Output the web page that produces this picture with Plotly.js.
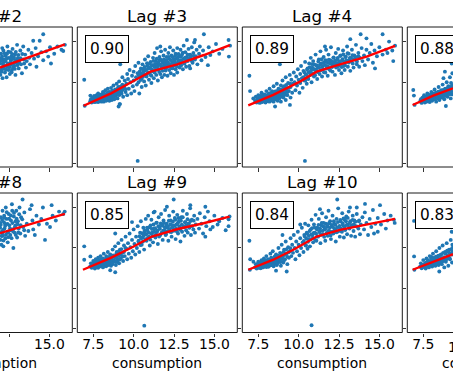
<!DOCTYPE html>
<html><head><meta charset="utf-8">
<script src="https://cdn.plot.ly/plotly-3.0.1.min.js"></script>
<style>html,body{margin:0;padding:0;background:#fff;}#chart{width:453px;height:378px;}</style>
</head><body><div id="chart"></div>
<script>
const lagNames = ['Lag #2','Lag #3','Lag #4','Lag #5','Lag #8','Lag #9','Lag #10','Lag #11'];
const corrLabels = [null,'0.90','0.89','0.88',null,'0.85','0.84','0.83'];
const xTickVals = [7.5,10,12.5,15];
const xTickText = ['7.5','10.0','12.5','15.0'];
const yTickVals = [0,5,10,15];
const xLabel = 'consumption';

const lag2Points = [[11.95,12.3],[11.97,10.9],[12.0,13.5],[12.05,11.6],[12.08,14.2],[12.1,12.8],[12.1,10.5],[12.15,13.9],[12.2,12.0],[12.25,11.2],[12.28,13.3],[12.3,12.6],[12.35,10.6],[12.4,14.4],[12.42,11.9],[12.45,13.0],[12.5,12.3],[12.55,11.0],[12.6,13.7],[12.62,12.7],[12.68,11.5],[12.72,14.1],[12.78,12.9],[12.82,12.0],[12.88,13.4],[12.9,10.9],[12.95,12.4],[13.0,14.6],[13.05,13.0],[13.1,11.7],[13.15,12.7],[13.2,13.9],[13.25,12.2],[13.3,11.1],[13.38,14.4],[13.42,12.8],[13.5,13.4],[13.55,11.8],[13.6,12.6],[13.7,14.0],[13.75,13.0],[13.8,12.2],[13.9,13.6],[14.0,15.1],[14.05,12.9],[14.15,14.2],[14.2,11.9],[14.3,13.2],[14.4,15.1],[14.5,13.7],[14.62,15.9],[14.62,12.7],[14.8,13.8],[14.93,13.15],[15.04,14.3],[15.1,12.3],[15.3,13.5],[15.5,14.4],[15.75,14.0],[15.86,13.85],[15.96,14.6],[11.96,11.4],[12.02,12.9],[12.12,11.9],[12.18,12.5],[12.32,12.0],[12.38,13.5],[12.48,11.5],[12.58,12.1],[12.65,13.2],[12.75,11.8],[12.85,12.5]];
const lag2Dense = [[11.99,12.62],[12.04,11.28],[12.07,13.18],[12.13,12.24],[12.16,11.66],[12.21,13.58],[12.26,12.82],[12.31,11.54],[12.36,12.94],[12.41,12.28],[12.46,13.76],[12.51,11.82],[12.56,12.96],[12.61,12.44],[12.66,11.22],[12.71,13.44],[12.76,12.22],[12.81,13.02],[12.86,11.64],[12.92,13.72],[12.97,12.74],[13.02,12.1],[13.08,13.36],[13.13,12.38],[13.22,12.96],[13.32,13.48],[13.44,12.3]];

const lag3Points = [[6.94,10.3],[6.97,7.1],[7.32,8.35],[7.3,7.6],[7.35,7.9],[7.4,7.5],[7.45,8.1],[7.5,7.7],[7.55,8.3],[7.6,7.55],[7.6,8.0],[7.65,7.8],[7.7,8.4],[7.7,7.6],[7.75,8.1],[7.8,7.55],[7.8,8.6],[7.85,7.9],[7.9,8.3],[7.9,7.65],[7.95,8.0],[8.0,8.5],[8.0,7.6],[8.05,7.85],[8.1,8.2],[8.1,8.8],[8.15,7.6],[8.2,8.45],[8.2,7.9],[8.25,9.0],[8.3,8.1],[8.3,7.7],[8.35,8.6],[8.4,7.95],[8.4,9.2],[8.45,8.3],[8.5,7.7],[8.5,8.8],[8.55,8.0],[8.6,9.3],[8.6,8.5],[8.65,7.8],[8.7,8.9],[8.7,8.2],[8.75,9.6],[8.8,7.9],[8.8,8.6],[8.85,9.1],[8.9,8.3],[8.95,9.8],[9.0,8.0],[9.0,8.8],[7.55,7.85],[7.75,7.7],[7.95,8.25],[8.15,8.05],[8.35,7.8],[8.55,8.45],[8.25,8.3],[7.85,8.15],[8.65,8.7],[8.05,8.35],[9.05,9.4],[9.1,8.4],[9.1,10.1],[9.15,7.3],[9.2,9.0],[9.25,8.6],[9.3,9.7],[9.3,10.6],[9.35,8.2],[9.4,9.3],[9.45,10.2],[9.5,8.8],[9.55,9.8],[9.6,11.0],[9.6,8.4],[9.65,10.4],[9.7,9.2],[9.75,11.5],[9.8,10.0],[9.85,8.6],[9.9,10.8],[9.95,9.5],[10.0,11.3],[10.0,10.2],[10.05,8.9],[10.1,12.0],[10.15,10.6],[10.2,9.7],[10.25,11.1],[10.3,10.0],[10.3,12.4],[10.35,8.6],[10.4,10.9],[10.45,11.7],[10.5,9.4],[10.5,10.4],[10.55,12.2],[10.6,11.0],[10.65,10.1],[10.7,12.8],[10.7,11.5],[10.75,9.6],[10.8,10.7],[10.85,12.0],[10.9,11.2],[10.9,13.2],[10.95,10.3],[11.0,11.8],[11.05,12.5],[11.1,10.8],[11.1,9.9],[11.15,11.5],[11.2,13.0],[11.2,12.1],[11.25,10.5],[11.3,11.2],[11.3,13.6],[11.35,12.6],[11.4,10.9],[11.4,11.9],[11.45,14.2],[11.5,12.3],[11.5,10.2],[11.55,11.6],[11.6,13.1],[11.6,12.7],[11.65,11.0],[11.7,12.0],[11.7,13.8],[11.75,10.6],[11.8,12.4],[11.8,11.4],[11.85,13.3],[11.9,12.1],[11.9,10.9],[11.95,14.0],[12.0,12.6],[12.0,11.7],[12.05,13.1],[12.1,10.8],[12.1,12.2],[12.15,13.6],[12.2,11.5],[12.2,12.9],[12.25,14.3],[12.3,12.0],[12.3,11.1],[12.35,13.3],[12.4,12.5],[12.4,11.7],[12.45,13.9],[12.5,12.8],[12.5,10.9],[12.55,12.2],[12.6,13.5],[12.6,11.6],[12.65,12.9],[12.7,14.2],[12.7,11.2],[12.75,12.5],[12.8,13.2],[12.85,11.8],[12.9,12.7],[12.9,14.0],[12.95,12.1],[13.0,13.4],[13.05,11.6],[13.1,12.9],[13.1,14.5],[13.15,12.3],[13.2,13.7],[13.25,11.9],[13.3,13.1],[13.3,15.2],[13.35,12.6],[13.4,14.1],[13.45,12.0],[13.5,13.4],[13.5,11.7],[13.55,12.9],[13.6,14.3],[13.65,12.4],[13.7,13.6],[13.75,14.9],[13.8,12.8],[13.85,13.2],[13.9,14.0],[13.95,12.2],[14.05,13.5],[14.1,14.4],[14.2,12.7],[14.3,13.9],[14.35,15.9],[14.45,13.1],[14.6,12.1],[14.65,14.3],[14.75,13.35],[14.9,13.8],[15.1,14.7],[15.3,13.5],[15.5,14.1],[15.88,15.2],[15.9,13.15],[15.97,14.5],[9.17,12.2],[9.07,7.0],[9.13,7.3],[10.25,0.3],[11.65,14.4],[13.8,15.2]];
const lag3Dense = [[7.42,7.72],[7.48,8.02],[7.53,7.58],[7.58,7.83],[7.63,8.17],[7.67,7.66],[7.72,7.95],[7.77,8.27],[7.82,7.74],[7.87,8.05],[7.92,7.82],[7.97,8.38],[8.02,7.96],[8.07,7.68],[8.12,8.31],[8.17,8.58],[8.22,8.12],[8.27,7.83],[8.32,8.42],[8.37,8.18],[8.42,8.73],[8.47,8.06],[8.52,8.38],[8.57,8.67],[8.62,8.14],[8.67,8.95],[8.72,8.46],[8.77,8.08],[8.82,8.82],[8.87,8.45],[8.92,9.02],[8.97,8.62],[9.02,9.22],[9.08,8.58],[9.13,8.95],[9.18,9.45],[9.24,8.88],[9.33,9.08],[9.42,9.55],[9.52,9.15],[10.32,10.84],[10.38,11.32],[10.43,10.27],[10.48,11.05],[10.53,11.62],[10.58,10.68],[10.63,11.36],[10.68,11.88],[10.73,10.96],[10.78,11.52],[10.83,12.34],[10.88,11.13],[10.93,11.72],[10.98,12.26],[11.03,10.92],[11.08,11.64],[11.13,12.08],[11.18,11.33],[11.23,12.62],[11.28,11.86],[11.33,12.23],[11.38,11.52],[11.43,12.88],[11.48,11.97],[11.53,12.46],[11.58,11.28],[11.63,12.17],[11.68,12.78],[11.73,11.74],[11.78,12.52],[11.83,11.98],[11.88,12.84],[11.93,12.36],[11.98,11.44],[12.03,12.68],[12.08,11.92],[12.13,12.44],[12.18,13.12],[12.23,12.16],[12.28,12.72],[12.33,11.84],[12.38,12.38],[12.43,13.04],[12.48,12.02],[12.53,12.58],[12.58,13.26],[12.63,12.28],[12.68,11.92],[12.73,12.86],[12.78,13.48],[12.83,12.52],[12.88,12.14],[12.93,13.18],[12.98,12.72],[13.04,13.62],[13.12,12.46],[13.18,13.02],[13.26,12.64],[13.34,13.38],[13.42,12.86],[13.52,13.18],[13.62,12.58],[13.72,13.22]];

const lag4Points = [[6.95,10.8],[6.99,8.9],[7.19,8.0],[10.39,0.3],[8.54,7.0],[9.46,7.2],[8.84,12.2],[11.63,14.4],[13.2,15.3],[13.84,15.9],[15.2,15.9],[15.86,12.6],[14.73,11.7],[14.2,15.4],[15.97,14.5],[15.5,13.6],[7.3,7.7],[7.35,8.2],[7.4,7.5],[7.45,7.9],[7.5,8.4],[7.5,7.6],[7.55,8.0],[7.6,7.45],[7.65,8.3],[7.7,7.8],[7.7,8.7],[7.75,7.55],[7.8,8.1],[7.85,7.7],[7.85,8.5],[7.9,7.95],[7.95,7.5],[8.0,8.3],[8.0,8.9],[8.05,7.7],[8.1,8.1],[8.15,8.6],[8.2,7.6],[8.2,9.2],[8.25,8.0],[8.3,8.4],[8.3,7.75],[8.35,8.9],[8.4,8.2],[8.45,7.6],[8.45,9.5],[8.5,8.5],[8.55,7.9],[8.6,8.9],[8.6,8.2],[8.65,9.8],[8.7,7.7],[8.7,8.6],[8.75,9.2],[8.8,8.0],[8.85,8.9],[8.9,9.6],[8.9,7.6],[8.95,8.3],[9.0,10.2],[9.0,9.0],[9.05,8.1],[9.1,9.5],[9.15,8.6],[9.2,10.6],[9.2,7.8],[9.25,9.2],[9.3,8.4],[9.35,9.9],[9.4,8.9],[9.45,10.9],[9.5,9.4],[9.5,8.1],[9.55,10.3],[9.6,8.7],[9.65,9.8],[9.7,11.2],[7.6,7.9],[7.8,8.35],[8.1,7.85],[8.4,8.6],[8.05,8.15],[8.25,8.65],[8.55,8.25],[7.95,8.1],[9.75,10.0],[9.8,9.0],[9.85,10.7],[9.9,9.6],[9.95,11.6],[10.0,10.3],[10.05,8.7],[10.1,11.0],[10.1,9.9],[10.15,12.0],[10.2,10.5],[10.25,9.3],[10.3,11.4],[10.35,10.2],[10.4,12.5],[10.45,10.9],[10.5,9.8],[10.55,11.7],[10.6,10.4],[10.65,12.3],[10.7,11.2],[10.75,13.0],[10.8,10.0],[10.85,11.8],[10.9,12.6],[10.95,10.7],[11.0,11.5],[11.05,13.4],[11.1,12.1],[11.15,10.4],[11.2,11.8],[11.25,12.8],[11.3,11.0],[11.35,13.8],[11.4,12.3],[11.45,10.7],[11.5,11.6],[11.55,13.1],[11.6,12.5],[11.65,11.2],[11.7,14.0],[11.75,12.0],[11.8,10.8],[11.85,13.4],[11.9,11.6],[11.95,12.7],[12.0,14.3],[12.05,12.2],[12.1,11.3],[12.15,13.0],[12.2,12.5],[12.25,10.9],[12.3,13.6],[12.35,11.9],[12.4,12.8],[12.45,14.1],[12.5,11.5],[12.55,12.3],[12.6,13.3],[12.65,11.1],[12.7,12.7],[12.75,13.9],[12.8,12.0],[12.85,11.5],[12.9,13.1],[12.95,12.5],[13.0,14.4],[13.05,11.9],[13.1,13.5],[13.15,12.7],[13.2,11.4],[13.25,13.0],[13.3,14.0],[13.35,12.3],[13.4,11.8],[13.45,13.3],[13.5,12.8],[13.55,14.6],[13.6,12.2],[13.7,13.6],[13.75,11.9],[13.8,13.0],[13.9,14.2],[13.95,12.6],[14.05,13.3],[14.1,12.1],[14.2,14.0],[14.3,12.8],[14.4,13.6],[14.5,14.7],[14.6,12.4],[14.7,13.9],[14.85,13.2],[15.0,14.3],[15.2,13.4],[15.4,14.0],[15.6,15.0],[15.8,13.9]];
const lag4Dense = [[7.41,7.66],[7.46,7.98],[7.51,7.52],[7.57,7.88],[7.62,8.21],[7.66,7.62],[7.71,7.91],[7.76,8.33],[7.81,7.71],[7.86,8.08],[7.91,7.79],[7.96,8.42],[8.01,7.93],[8.06,8.21],[8.11,7.66],[8.16,8.49],[8.21,8.08],[8.26,7.81],[8.31,8.62],[8.36,8.19],[8.41,7.9],[8.46,8.44],[8.51,8.83],[8.56,8.12],[8.61,8.55],[8.66,7.98],[8.71,8.92],[8.76,8.36],[8.81,8.71],[8.86,8.18],[8.91,9.12],[8.96,8.52],[9.01,8.86],[9.07,9.38],[9.12,8.42],[9.17,9.02],[9.23,9.66],[9.31,8.78],[9.39,9.32],[9.48,9.82],[10.3,10.62],[10.36,11.18],[10.41,10.22],[10.47,10.96],[10.52,11.54],[10.57,10.58],[10.62,11.24],[10.67,11.82],[10.72,10.88],[10.77,11.44],[10.82,12.22],[10.87,11.06],[10.92,11.64],[10.97,12.18],[11.02,10.84],[11.07,11.58],[11.12,12.04],[11.17,11.26],[11.22,12.56],[11.27,11.78],[11.32,12.16],[11.37,11.46],[11.42,12.82],[11.47,11.92],[11.52,12.38],[11.57,11.22],[11.62,12.12],[11.67,12.72],[11.72,11.68],[11.77,12.46],[11.82,11.94],[11.87,12.78],[11.92,12.32],[11.97,11.42],[12.02,12.62],[12.07,11.88],[12.12,12.4],[12.17,13.06],[12.22,12.12],[12.27,12.68],[12.32,11.8],[12.37,12.34],[12.42,12.98],[12.47,11.98],[12.52,12.54],[12.57,13.22],[12.62,12.24],[12.67,11.88],[12.72,12.82],[12.77,13.42],[12.82,12.48],[12.87,12.1],[12.92,13.14],[12.97,12.68],[13.03,13.56],[13.11,12.42],[13.17,12.98],[13.25,12.6],[13.33,13.34],[13.41,12.82],[13.51,13.14],[13.61,12.54],[13.71,13.18]];

const lag5Points = [[6.88,9.04],[6.92,8.35],[6.96,7.2],[7.3,7.6],[7.35,7.9],[7.4,7.45],[7.45,8.1],[7.5,7.7],[7.55,8.4],[7.6,7.5],[7.6,7.95],[7.65,8.2],[7.7,7.6],[7.75,8.6],[7.8,7.8],[7.85,8.3],[7.9,7.55],[7.95,8.0],[8.0,8.8],[8.05,7.7],[8.1,8.4],[8.15,7.9],[8.2,9.1],[8.25,8.2],[8.3,7.6],[8.35,8.7],[8.4,8.0],[8.45,9.4],[8.5,7.8],[8.55,8.5],[8.6,9.0],[8.65,8.1],[8.7,9.7],[8.75,10.5],[8.75,8.4],[8.8,7.9],[8.84,11.3],[8.85,9.2],[8.9,7.07],[8.9,8.6],[8.95,10.0],[9.0,8.2],[9.05,9.5],[9.1,8.8],[9.15,13.35],[9.15,10.6],[9.2,8.0],[9.22,9.9],[9.26,12.3],[9.28,8.5],[9.3,11.1],[9.32,9.3],[7.7,8.05],[7.9,8.4],[8.1,8.1],[8.3,8.45],[8.5,8.2],[8.0,7.85]];
const lag5Dense = [[7.62,7.74],[7.68,8.12],[7.73,7.88],[7.78,8.42],[7.83,7.64],[7.88,8.16],[7.93,7.9],[7.98,8.52],[8.03,8.2],[8.08,7.92],[8.13,8.62],[8.18,8.28],[8.23,7.98],[8.28,8.72],[8.33,8.36],[8.38,8.08],[8.43,8.82],[8.48,8.42],[8.53,8.12],[8.58,8.78],[8.63,8.46],[8.68,8.22],[8.73,9.04],[8.78,8.62],[8.83,8.3],[8.88,8.96],[8.93,8.42],[8.98,9.24],[9.03,8.72],[9.08,9.16],[9.13,8.5],[9.18,9.42],[9.24,8.86],[9.3,9.62]];

const lag8Points = [[11.95,12.5],[11.97,11.0],[12.0,13.8],[12.03,10.4],[12.05,12.0],[12.1,14.6],[12.12,11.5],[12.15,10.2],[12.18,13.2],[12.22,12.4],[12.28,11.2],[12.3,15.0],[12.35,13.6],[12.4,12.0],[12.42,10.7],[12.48,14.2],[12.52,12.8],[12.58,11.6],[12.62,13.4],[12.68,15.4],[12.72,12.3],[12.77,10.0],[12.8,13.9],[12.85,11.9],[12.9,12.8],[12.95,14.6],[13.0,11.3],[13.05,13.3],[13.1,12.4],[13.15,15.0],[13.2,11.8],[13.25,13.8],[13.34,16.0],[13.38,12.6],[13.45,14.4],[13.5,11.5],[13.6,13.0],[13.7,12.1],[13.8,14.8],[13.9,15.3],[13.95,13.4],[14.0,12.3],[14.1,11.6],[14.2,14.0],[14.35,12.9],[14.5,13.6],[14.6,15.0],[14.73,11.0],[14.85,13.0],[15.04,12.6],[15.14,15.3],[15.2,14.0],[15.4,13.4],[15.6,14.5],[15.86,14.2],[15.95,14.5],[11.96,13.1],[12.08,11.8],[12.25,13.0],[12.45,11.9],[12.6,12.2],[12.2,14.0],[12.7,14.6],[12.9,13.3]];
const lag8Dense = [[11.99,12.86],[12.04,11.48],[12.07,13.46],[12.13,12.24],[12.16,10.92],[12.21,13.74],[12.26,12.72],[12.31,11.64],[12.36,14.42],[12.41,12.98],[12.46,11.34],[12.51,13.62],[12.56,12.42],[12.61,14.02],[12.66,11.22],[12.71,13.08],[12.76,12.02],[12.81,14.34],[12.86,12.58],[12.92,11.62],[12.97,13.62],[13.02,12.94],[13.08,11.92],[13.13,14.18],[13.22,12.82],[13.32,13.54],[13.44,12.2]];

const lag9Points = [[6.94,10.2],[6.94,8.55],[7.32,8.96],[10.66,0.4],[8.86,7.0],[8.55,7.25],[12.48,16.0],[12.06,15.1],[13.51,15.3],[14.44,15.1],[15.88,13.55],[15.88,12.7],[14.75,12.3],[14.44,11.4],[8.86,11.8],[9.9,13.2],[11.24,14.4],[15.3,13.3],[15.94,13.9],[7.3,7.7],[7.35,8.1],[7.4,7.55],[7.45,7.9],[7.5,8.4],[7.55,7.65],[7.6,8.0],[7.6,7.45],[7.65,8.6],[7.7,7.8],[7.75,8.2],[7.8,7.55],[7.8,8.8],[7.85,8.0],[7.9,7.7],[7.9,8.45],[7.95,9.0],[8.0,7.9],[8.05,8.3],[8.1,7.6],[8.1,8.7],[8.15,9.3],[8.2,8.0],[8.25,8.5],[8.3,7.75],[8.3,9.0],[8.35,8.25],[8.4,9.5],[8.45,7.9],[8.5,8.7],[8.5,8.15],[8.55,9.2],[8.6,7.8],[8.65,8.5],[8.7,9.8],[8.7,8.0],[8.75,9.0],[8.8,8.4],[8.85,10.2],[8.9,7.9],[8.9,8.9],[8.95,9.5],[9.0,8.3],[9.05,10.6],[9.1,9.1],[9.1,8.1],[9.15,9.8],[9.2,8.7],[9.25,11.0],[9.3,9.4],[9.35,8.4],[9.4,10.3],[9.45,9.0],[9.5,11.4],[9.55,9.9],[9.6,8.6],[7.55,7.95],[7.75,7.65],[7.95,8.25],[8.2,8.35],[8.4,8.05],[8.6,8.35],[8.0,8.6],[7.7,8.35],[9.65,10.6],[9.7,9.3],[9.75,11.8],[9.8,10.1],[9.85,8.8],[9.9,11.0],[9.95,9.6],[10.0,12.3],[10.05,10.5],[10.1,9.2],[10.15,11.4],[10.2,10.0],[10.25,12.7],[10.3,10.8],[10.35,9.5],[10.4,11.9],[10.45,13.3],[10.5,10.4],[10.55,11.3],[10.6,12.5],[10.65,9.8],[10.7,11.8],[10.75,13.6],[10.8,10.9],[10.85,12.2],[10.9,14.0],[10.95,11.4],[11.0,10.3],[11.05,12.8],[11.1,13.5],[11.15,11.9],[11.2,10.7],[11.25,12.4],[11.3,14.5],[11.35,11.3],[11.4,13.1],[11.45,12.0],[11.5,10.5],[11.55,13.8],[11.6,12.6],[11.65,11.6],[11.7,14.2],[11.75,12.9],[11.8,11.0],[11.85,13.4],[11.9,12.2],[11.95,14.7],[12.0,11.7],[12.05,13.0],[12.1,12.5],[12.15,10.9],[12.2,14.0],[12.25,12.0],[12.3,13.4],[12.35,11.4],[12.4,12.8],[12.45,14.5],[12.5,12.3],[12.55,13.7],[12.6,11.1],[12.65,12.9],[12.7,14.1],[12.75,11.8],[12.8,13.3],[12.85,12.4],[12.9,10.8],[12.95,13.8],[13.0,12.0],[13.05,14.6],[13.1,12.7],[13.15,11.5],[13.2,13.2],[13.25,12.2],[13.3,14.2],[13.35,11.9],[13.4,13.0],[13.45,12.5],[13.5,14.9],[13.55,11.6],[13.6,13.5],[13.7,12.3],[13.75,14.0],[13.8,11.9],[13.85,12.9],[13.95,13.6],[14.05,12.4],[14.1,14.3],[14.2,13.0],[14.3,11.8],[14.4,13.8],[14.5,12.7],[14.6,14.5],[14.7,13.3],[14.9,12.6],[15.0,14.0],[15.2,12.9],[15.5,13.7],[15.7,12.2]];
const lag9Dense = [[7.43,7.74],[7.47,8.08],[7.52,7.6],[7.58,7.92],[7.63,8.26],[7.68,7.7],[7.73,8.02],[7.78,8.4],[7.83,7.8],[7.88,8.14],[7.93,7.88],[7.98,8.5],[8.03,8.04],[8.08,8.3],[8.13,7.76],[8.18,8.6],[8.23,8.2],[8.28,7.92],[8.33,8.74],[8.38,8.3],[8.43,8.0],[8.48,8.58],[8.53,8.98],[8.58,8.24],[8.63,8.68],[8.68,8.1],[8.73,9.08],[8.78,8.5],[8.83,8.86],[8.88,8.3],[8.93,9.3],[8.98,8.66],[9.03,9.0],[9.08,9.56],[9.13,8.56],[9.18,9.2],[9.24,9.86],[9.32,8.94],[9.4,9.5],[9.49,10.0],[10.31,10.9],[10.37,11.46],[10.42,10.36],[10.47,11.2],[10.53,11.82],[10.58,10.8],[10.63,11.54],[10.68,12.14],[10.73,11.1],[10.78,11.7],[10.83,12.5],[10.88,11.28],[10.93,11.9],[10.98,12.56],[11.03,11.04],[11.08,11.8],[11.13,12.34],[11.18,11.48],[11.23,12.9],[11.28,12.02],[11.33,12.44],[11.38,11.66],[11.43,13.14],[11.48,12.16],[11.53,12.7],[11.58,11.42],[11.63,12.36],[11.68,13.04],[11.73,11.9],[11.78,12.76],[11.83,12.14],[11.88,13.1],[11.93,12.56],[11.98,11.6],[12.03,12.9],[12.08,12.06],[12.13,12.62],[12.18,13.36],[12.23,12.3],[12.28,12.92],[12.33,11.98],[12.38,12.56],[12.43,13.24],[12.48,12.14],[12.53,12.76],[12.58,13.5],[12.63,12.42],[12.68,12.04],[12.73,13.06],[12.78,13.7],[12.83,12.66],[12.88,12.26],[12.93,13.36],[12.98,12.88],[13.04,13.8],[13.12,12.58],[13.18,13.18],[13.26,12.78],[13.34,13.56],[13.42,13.0],[13.52,13.34],[13.62,12.7],[13.72,13.38]];

const lag10Points = [[6.95,10.9],[7.0,8.6],[6.98,7.3],[7.2,8.3],[10.8,0.45],[9.26,7.1],[8.6,7.2],[12.39,16.0],[13.18,15.0],[14.11,15.45],[15.04,15.3],[15.9,13.5],[15.95,13.1],[14.67,11.8],[11.32,14.8],[13.6,15.0],[9.0,11.6],[10.1,12.9],[15.4,12.4],[14.9,12.0],[7.3,7.6],[7.35,8.0],[7.4,7.45],[7.45,7.85],[7.5,8.3],[7.55,7.6],[7.6,8.05],[7.65,7.5],[7.7,8.5],[7.7,7.8],[7.75,8.2],[7.8,7.6],[7.85,8.7],[7.9,7.9],[7.95,8.4],[8.0,7.65],[8.0,9.0],[8.05,8.1],[8.1,8.6],[8.15,7.7],[8.2,8.3],[8.25,9.3],[8.3,7.9],[8.3,8.8],[8.35,8.15],[8.4,9.6],[8.45,7.75],[8.5,8.6],[8.55,8.1],[8.6,9.2],[8.65,7.9],[8.7,8.8],[8.75,10.0],[8.8,8.3],[8.85,9.4],[8.9,7.8],[8.9,8.7],[8.95,10.4],[9.0,9.0],[9.05,8.2],[9.1,9.8],[9.15,8.6],[9.2,10.8],[9.25,9.3],[9.3,8.0],[9.35,10.1],[9.4,8.8],[9.45,9.6],[9.5,11.2],[9.55,9.0],[9.6,10.4],[7.55,7.9],[7.8,8.05],[8.05,7.8],[8.25,8.5],[8.45,8.35],[7.9,8.25],[8.65,8.45],[8.15,8.0],[9.65,9.4],[9.7,11.6],[9.75,10.0],[9.8,8.6],[9.85,10.8],[9.9,9.6],[9.95,12.0],[10.0,10.4],[10.05,9.1],[10.1,11.2],[10.15,10.0],[10.2,12.5],[10.25,10.7],[10.3,9.5],[10.35,11.6],[10.4,13.0],[10.45,10.3],[10.5,11.9],[10.55,9.9],[10.6,12.8],[10.65,11.1],[10.7,10.2],[10.75,12.3],[10.8,13.5],[10.85,11.6],[10.9,10.7],[10.95,12.9],[11.0,11.9],[11.05,14.1],[11.1,10.9],[11.15,12.5],[11.2,11.4],[11.25,13.6],[11.3,12.0],[11.35,10.6],[11.4,12.8],[11.45,14.3],[11.5,11.7],[11.55,13.1],[11.6,12.3],[11.65,10.9],[11.7,13.8],[11.75,12.6],[11.8,11.5],[11.85,14.6],[11.9,12.1],[11.95,13.3],[12.0,11.1],[12.05,12.7],[12.1,14.0],[12.15,11.8],[12.2,13.0],[12.25,12.3],[12.3,10.8],[12.35,13.6],[12.4,12.0],[12.45,14.9],[12.5,12.6],[12.55,11.4],[12.6,13.3],[12.65,12.1],[12.7,14.3],[12.75,12.8],[12.8,11.3],[12.85,13.5],[12.9,12.3],[12.95,13.9],[13.0,11.7],[13.05,12.9],[13.1,14.5],[13.15,12.4],[13.2,13.3],[13.25,11.5],[13.3,12.8],[13.35,14.0],[13.4,12.1],[13.45,13.4],[13.5,11.4],[13.55,12.7],[13.6,14.2],[13.7,12.4],[13.75,13.4],[13.8,11.7],[13.85,12.9],[13.95,13.8],[14.05,12.3],[14.1,14.4],[14.2,13.1],[14.3,11.6],[14.4,13.6],[14.5,12.6],[14.6,14.7],[14.75,13.0],[14.9,13.7],[15.1,12.9],[15.3,14.2],[15.5,13.4],[15.7,14.0]];
const lag10Dense = [[7.42,7.7],[7.47,8.04],[7.53,7.56],[7.57,7.9],[7.62,8.22],[7.67,7.66],[7.72,7.98],[7.77,8.36],[7.82,7.76],[7.87,8.1],[7.92,7.84],[7.97,8.46],[8.02,8.0],[8.07,8.26],[8.12,7.72],[8.17,8.56],[8.22,8.16],[8.27,7.88],[8.32,8.7],[8.37,8.26],[8.42,7.96],[8.47,8.54],[8.52,8.94],[8.57,8.2],[8.62,8.64],[8.67,8.06],[8.72,9.04],[8.77,8.46],[8.82,8.82],[8.87,8.26],[8.92,9.26],[8.97,8.62],[9.02,8.96],[9.07,9.52],[9.12,8.52],[9.17,9.16],[9.23,9.82],[9.31,8.9],[9.39,9.46],[9.48,9.96],[10.32,10.86],[10.38,11.42],[10.43,10.32],[10.48,11.16],[10.53,11.78],[10.58,10.76],[10.63,11.5],[10.68,12.1],[10.73,11.06],[10.78,11.66],[10.83,12.46],[10.88,11.24],[10.93,11.86],[10.98,12.52],[11.03,11.0],[11.08,11.76],[11.13,12.3],[11.18,11.44],[11.23,12.86],[11.28,11.98],[11.33,12.4],[11.38,11.62],[11.43,13.1],[11.48,12.12],[11.53,12.66],[11.58,11.38],[11.63,12.32],[11.68,13.0],[11.73,11.86],[11.78,12.72],[11.83,12.1],[11.88,13.06],[11.93,12.52],[11.98,11.56],[12.03,12.86],[12.08,12.02],[12.13,12.58],[12.18,13.32],[12.23,12.26],[12.28,12.88],[12.33,11.94],[12.38,12.52],[12.43,13.2],[12.48,12.1],[12.53,12.72],[12.58,13.46],[12.63,12.38],[12.68,12.0],[12.73,13.02],[12.78,13.64],[12.83,12.62],[12.88,12.22],[12.93,13.3],[12.98,12.84],[13.04,13.72],[13.12,12.54],[13.18,13.12],[13.26,12.72],[13.34,13.48],[13.42,12.94],[13.52,13.26],[13.62,12.64],[13.72,13.3]];

const lag11Points = [[6.93,13.35],[6.93,8.96],[6.95,7.3],[7.3,7.7],[7.35,8.1],[7.4,7.5],[7.45,7.9],[7.5,8.5],[7.55,7.65],[7.6,8.1],[7.65,7.45],[7.7,8.7],[7.75,7.9],[7.8,8.3],[7.85,7.6],[7.9,9.0],[7.95,8.0],[8.0,8.5],[8.05,7.7],[8.1,9.3],[8.15,8.1],[8.2,8.7],[8.25,7.8],[8.3,9.6],[8.35,8.3],[8.4,8.9],[8.45,7.9],[8.49,7.1],[8.5,10.0],[8.55,8.5],[8.6,9.2],[8.65,8.0],[8.7,10.3],[8.75,8.7],[8.8,7.6],[8.85,9.5],[8.9,8.3],[8.95,10.6],[9.0,9.0],[9.05,7.8],[9.1,9.8],[9.15,13.06],[9.15,8.6],[9.2,11.0],[9.22,9.3],[9.26,12.0],[9.28,8.2],[9.3,10.4],[9.33,9.6],[7.6,7.85],[7.85,8.25],[8.05,8.0],[8.25,8.4],[8.45,8.6],[8.0,8.9]];
const lag11Dense = [[7.62,7.78],[7.68,8.2],[7.73,7.94],[7.78,8.5],[7.83,7.7],[7.88,8.28],[7.93,7.96],[7.98,8.66],[8.03,8.28],[8.08,7.98],[8.13,8.76],[8.18,8.38],[8.23,8.06],[8.28,8.92],[8.33,8.52],[8.38,8.16],[8.43,9.06],[8.48,8.62],[8.53,8.24],[8.58,9.14],[8.63,8.7],[8.68,8.34],[8.73,9.4],[8.78,8.86],[8.83,8.44],[8.88,9.3],[8.93,8.6],[8.98,9.66],[9.03,9.02],[9.08,9.46],[9.13,8.74],[9.18,9.8],[9.24,9.18],[9.3,10.02]];

const lag2LineX = [11.94,14.0,15.96],  lag2LineY = [11.8,13.27,14.67];
const lag3LineX = [6.9,8.6,10.1,11.05,12.7,14.35,15.96], lag3LineY = [7.1,8.63,10.27,11.3,12.2,13.35,14.58];
const lag4LineX = [6.88,8.43,10.08,11.12,12.56,14.21,15.97], lag4LineY = [7.15,8.43,10.07,11.3,12.2,13.15,14.46];
const lag5LineX = [6.84,8.12,9.34], lag5LineY = [7.19,8.34,9.25];
const lag8LineX = [11.94,14.0,15.96], lag8LineY = [11.83,13.06,14.21];
const lag9LineX = [6.86,8.55,10.0,11.13,12.68,14.33,15.94], lag9LineY = [7.31,8.75,10.19,11.42,12.32,13.06,13.88];
const lag10LineX = [6.88,8.43,9.67,11.12,12.56,14.21,15.97], lag10LineY = [7.31,8.55,9.78,11.42,12.24,12.94,13.6];
const lag11LineX = [6.84,8.12,9.34], lag11LineY = [7.31,8.3,9.24];

const panelPoints = [lag2Points.concat(lag2Dense), lag3Points.concat(lag3Dense), lag4Points.concat(lag4Dense), lag5Points.concat(lag5Dense),
                     lag8Points.concat(lag8Dense), lag9Points.concat(lag9Dense), lag10Points.concat(lag10Dense), lag11Points.concat(lag11Dense)];
const panelLineX = [lag2LineX,lag3LineX,lag4LineX,lag5LineX,lag8LineX,lag9LineX,lag10LineX,lag11LineX];
const panelLineY = [lag2LineY,lag3LineY,lag4LineY,lag5LineY,lag8LineY,lag9LineY,lag10LineY,lag11LineY];

const W = 453, H = 378;
const xFull = [6.51, 16.42], yFull = [-0.45, 16.8];
const colLeft = [-87.7, 77.3, 242.3, 407.3], colW = 160;
const rowTop = [27, 193], rowBot = [167, 332.5];
const FONT = 'DejaVu Sans';

const data = [], shapes = [], annotations = [];
const layout = {
  width: W, height: H, margin: {l:0, r:0, t:0, b:0},
  paper_bgcolor: '#fff', plot_bgcolor: '#fff', showlegend: false,
  font: {family: FONT, color: '#000'}
};

for (let i = 0; i < 8; i++) {
  const row = i < 4 ? 0 : 1, col = i % 4;
  const left = colLeft[col], right = left + colW;
  const visL = Math.max(0, left), visR = Math.min(W, right);
  const span = xFull[1] - xFull[0];
  const xr = [xFull[0] + (visL - left) / colW * span, xFull[0] + (visR - left) / colW * span];
  const sfx = i === 0 ? '' : String(i + 1);
  layout['xaxis' + sfx] = {
    domain: [visL / W, visR / W], range: xr, anchor: 'y' + sfx,
    tickmode: 'array', tickvals: xTickVals, ticktext: xTickText,
    showticklabels: row === 1, ticks: 'outside', ticklen: 3.5, tickwidth: 0.8, tickcolor: '#000',
    ticklabelstandoff: -5,
    showgrid: false, zeroline: false, showline: false, fixedrange: true,
    tickfont: {family: FONT, size: 13.9, color: '#000'}
  };
  layout['yaxis' + sfx] = {
    domain: [1 - rowBot[row] / H, 1 - rowTop[row] / H], range: yFull, anchor: 'x' + sfx,
    tickmode: 'array', tickvals: yTickVals, showticklabels: false,
    ticks: 'outside', ticklen: 3.5, tickwidth: 0.8, tickcolor: '#000',
    showgrid: false, zeroline: false, showline: false, fixedrange: true
  };
  const pts = panelPoints[i];
  data.push({
    type: 'scatter', mode: 'markers', xaxis: 'x' + sfx, yaxis: 'y' + sfx,
    x: pts.map(p => p[0]), y: pts.map(p => p[1]),
    marker: {color: '#1f77b4', size: 3.9, line: {width: 0}}, hoverinfo: 'skip'
  });
  data.push({
    type: 'scatter', mode: 'lines', xaxis: 'x' + sfx, yaxis: 'y' + sfx,
    x: panelLineX[i], y: panelLineY[i],
    line: {color: '#ff0000', width: 2.4}, hoverinfo: 'skip'
  });
  shapes.push({
    type: 'rect', xref: 'paper', yref: 'paper', layer: 'above',
    x0: left / W, x1: right / W, y0: 1 - rowBot[row] / H, y1: 1 - rowTop[row] / H,
    line: {color: '#000', width: 0.9}, fillcolor: 'rgba(0,0,0,0)'
  });
  const cx = (left + colW / 2) / W;
  annotations.push({
    xref: 'paper', yref: 'paper', x: cx, y: 1 - (rowTop[row] - 11) / H,
    xanchor: 'center', yanchor: 'middle', showarrow: false,
    text: lagNames[i], font: {family: FONT, size: 16.7, color: '#000'}
  });
  if (corrLabels[i]) {
    annotations.push({
      xref: 'paper', yref: 'paper', x: (left + 7.5) / W, y: 1 - (rowTop[row] + 8.3) / H,
      xanchor: 'left', yanchor: 'top', showarrow: false,
      text: corrLabels[i], font: {family: FONT, size: 15.3, color: '#000'},
      bgcolor: '#fff', bordercolor: '#000', borderwidth: 1, borderpad: 4
    });
  }
  if (row === 1) {
    annotations.push({
      xref: 'paper', yref: 'paper', x: cx, y: 1 - 363 / H,
      xanchor: 'center', yanchor: 'middle', showarrow: false,
      text: xLabel, font: {family: FONT, size: 13.9, color: '#000'}
    });
  }
}
// tick label of the rightmost bottom panel that falls just past the picture edge
{
  const left = colLeft[3];
  const px = left + (xTickVals[1] - xFull[0]) / (xFull[1] - xFull[0]) * colW;
  annotations.push({
    xref: 'paper', yref: 'paper', x: px / W, y: 1 - 346.7 / H,
    xanchor: 'center', yanchor: 'middle', showarrow: false,
    text: xTickText[1], font: {family: FONT, size: 13.9, color: '#000'}
  });
}
layout.shapes = shapes;
layout.annotations = annotations;
Plotly.newPlot('chart', data, layout, {staticPlot: true, displayModeBar: false});
</script></body></html>
